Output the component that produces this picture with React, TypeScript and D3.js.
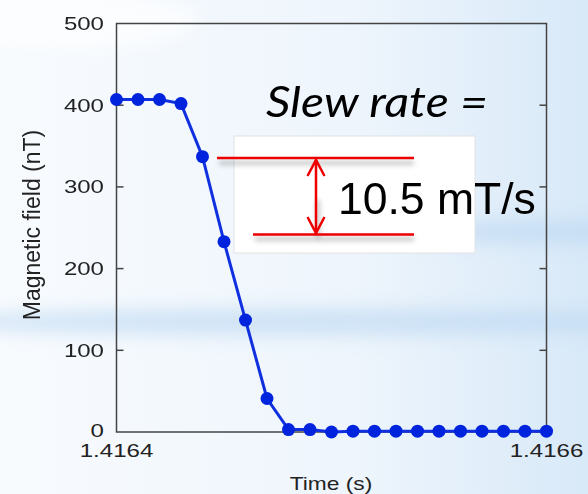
import * as d3 from "d3";

// sample times (s) and field (nT)
const times = [
  1.4164, 1.41641, 1.41642, 1.41643, 1.41644, 1.41645, 1.41646, 1.41647,
  1.41648, 1.41649, 1.4165, 1.41651, 1.41652, 1.41653, 1.41654, 1.41655,
  1.41656, 1.41657, 1.41658, 1.41659, 1.4166,
];
const field = [
  407, 407, 407, 402, 337, 233, 137, 41, 3, 3, 0, 1, 1, 1, 1, 1, 1, 1, 1, 1, 1,
];
const yTicks = [0, 100, 200, 300, 400, 500];
const xTickLabels = ["1.4164", "1.4166"];
const xTickValues = [1.4164, 1.4166];

const W = 588;
const H = 494;
const m = { left: 116.5, right: 546.5, top: 23.5, bottom: 432 };

export default function App() {
  const x = d3.scaleLinear().domain([1.4164, 1.4166]).range([m.left, m.right]);
  const y = d3.scaleLinear().domain([0, 500]).range([m.bottom, m.top]);

  const pts = times.map((t, i) => ({ t, v: field[i] }));
  const line = d3
    .line<{ t: number; v: number }>()
    .x((d) => x(d.t))
    .y((d) => y(d.v));

  const tickFont = "'Liberation Sans', Arial, sans-serif";

  return (
    <svg
      width={W}
      height={H}
      style={{ position: "absolute", left: 0, top: 0 }}
    >
      <defs>
        <linearGradient id="bg" x1="0" x2="1" y1="0" y2="0">
          <stop offset="0" stopColor="#f8fbfe" />
          <stop offset="0.6" stopColor="#eef5fc" />
          <stop offset="1" stopColor="#d8e9f8" />
        </linearGradient>
        <filter id="blurBg" x="-50%" y="-200%" width="200%" height="500%">
          <feGaussianBlur stdDeviation="9" />
        </filter>
        <filter id="shadow" x="-10%" y="-200%" width="120%" height="500%">
          <feGaussianBlur stdDeviation="2.5" />
        </filter>
      </defs>

      {/* background */}
      <rect x={0} y={0} width={W} height={H} fill="url(#bg)" />
      <g filter="url(#blurBg)">
        <ellipse cx={300} cy={322} rx={380} ry={13} fill="#b7d6f1" opacity={0.6} />
        <ellipse cx={540} cy={232} rx={170} ry={11} fill="#b7d6f1" opacity={0.6} />
        <ellipse cx={80} cy={20} rx={120} ry={30} fill="#ffffff" opacity={0.6} />
      </g>

      {/* frame */}
      <rect
        x={m.left}
        y={m.top}
        width={m.right - m.left}
        height={m.bottom - m.top}
        fill="none"
        stroke="#444"
        strokeWidth={1.5}
      />
      {yTicks
        .filter((d) => d > 0 && d < 500)
        .map((d) => (
          <g key={d} stroke="#444" strokeWidth={1.5}>
            <line x1={m.left} x2={m.left + 7} y1={y(d)} y2={y(d)} />
            <line x1={m.right - 7} x2={m.right} y1={y(d)} y2={y(d)} />
          </g>
        ))}

      {/* y tick labels */}
      {yTicks.map((d) => (
        <text
          key={d}
          transform={`translate(104,${y(d) + (d === 0 ? 4.5 : 6.5)}) scale(1.3,1)`}
          textAnchor="end"
          fontFamily={tickFont}
          fontSize={18.5}
          fill="#222"
        >
          {d}
        </text>
      ))}

      {/* x tick labels */}
      {xTickValues.map((v, i) => (
        <text
          key={v}
          transform={`translate(${x(v)},${457}) scale(1.3,1)`}
          textAnchor="middle"
          fontFamily={tickFont}
          fontSize={18.5}
          fill="#222"
        >
          {xTickLabels[i]}
        </text>
      ))}

      {/* axis titles */}
      <text
        transform="translate(331,490) scale(1.3,1)"
        textAnchor="middle"
        fontFamily={tickFont}
        fontSize={17.5}
        fill="#222"
      >
        Time (s)
      </text>
      <text
        transform="translate(40,225) rotate(-90)"
        textAnchor="middle"
        fontFamily={tickFont}
        fontSize={23}
        fill="#222"
      >
        Magnetic field (nT)
      </text>

      {/* data */}
      <path d={line(pts) ?? ""} fill="none" stroke="#1030e0" strokeWidth={3} />
      {pts.map((d, i) => (
        <circle key={i} cx={x(d.t)} cy={y(d.v)} r={6.5} fill="#0024dd" />
      ))}

      {/* annotation */}
      <text
        x={266}
        y={117}
        fontFamily="Lato, 'Open Sans', sans-serif"
        fontStyle="italic"
        fontSize={42}
        textLength={222}
        lengthAdjust="spacingAndGlyphs"
        fill="#000"
      >
        Slew rate =
      </text>
      <rect x={234} y={136} width={241} height={117} fill="#fff" stroke="#e2e2e2" strokeWidth={1} />
      <g filter="url(#shadow)" stroke="#555" strokeWidth={3} opacity={0.45}>
        <line x1={219} x2={414} y1={163} y2={163} />
        <line x1={255} x2={414} y1={239} y2={239} />
        <line x1={318} x2={318} y1={200} y2={238} />
      </g>
      <g stroke="#ee0000" strokeWidth={2.5} fill="none">
        <line x1={217} x2={414} y1={158} y2={158} />
        <line x1={253} x2={414} y1={234.5} y2={234.5} />
        <line x1={316} x2={316} y1={160} y2={233} />
        <polyline points="307.5,176 316,160 324.5,176" />
        <polyline points="307.5,217 316,233 324.5,217" />
      </g>
      <text
        x={338}
        y={214}
        fontFamily="'Liberation Sans', Arial, sans-serif"
        fontSize={44.5}
        fill="#000"
      >
        10.5 mT/s
      </text>
    </svg>
  );
}
